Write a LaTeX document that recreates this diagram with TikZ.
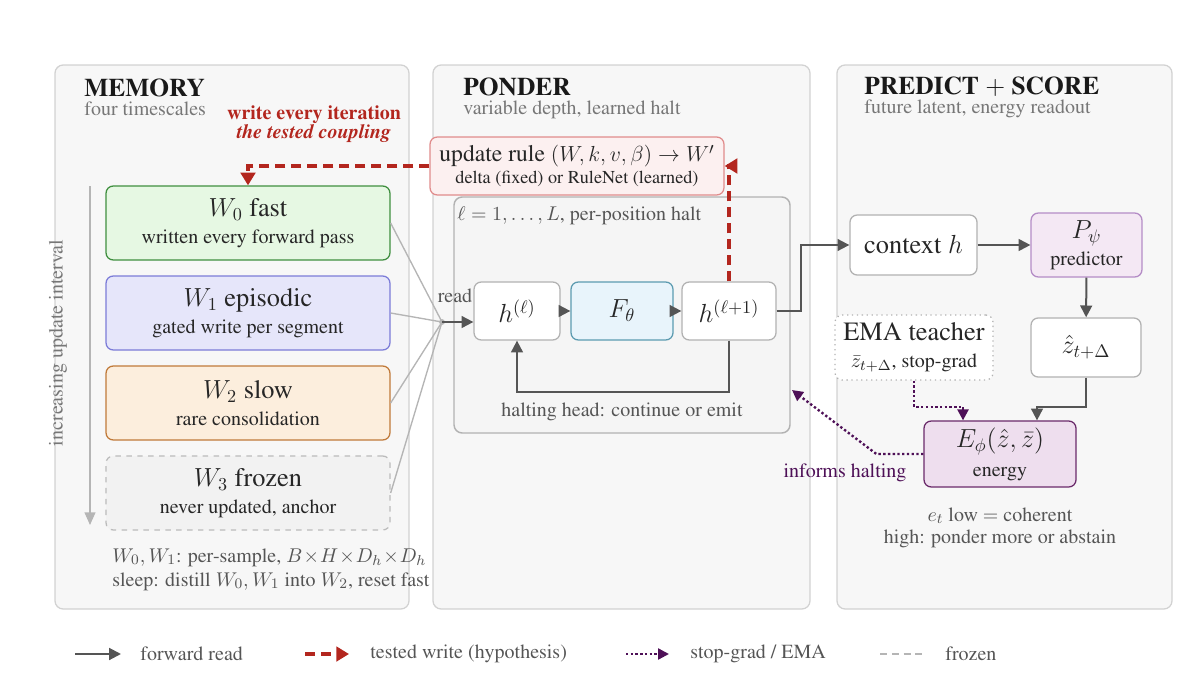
\documentclass[tikz,border=0pt]{standalone}
\usepackage{amsmath}
\usepackage[T1]{fontenc}
\renewcommand{\rmdefault}{ptm}
\usepackage{tikz}
\usetikzlibrary{arrows.meta,calc}
\definecolor{panelfill}{HTML}{F7F7F7}
\definecolor{panelline}{HTML}{D2D2D2}
\definecolor{fwdgray}{HTML}{555555}
\definecolor{readgray}{HTML}{B5B5B5}
\definecolor{notegray}{HTML}{555555}
\definecolor{subgray}{HTML}{777777}
\definecolor{testred}{HTML}{B3261E}
\definecolor{sgpurple}{HTML}{4E1057}
\definecolor{fastfill}{HTML}{E6F8E3}
\definecolor{fastline}{HTML}{3F8F3F}
\definecolor{epifill}{HTML}{E6E6FA}
\definecolor{epiline}{HTML}{7C7CD8}
\definecolor{slowfill}{HTML}{FCEEDD}
\definecolor{slowline}{HTML}{C07A3A}
\definecolor{frozfill}{HTML}{F2F2F2}
\definecolor{frozline}{HTML}{BBBBBB}
\definecolor{updfill}{HTML}{FCF0F0}
\definecolor{updline}{HTML}{E08C8C}
\definecolor{ffill}{HTML}{E8F4FB}
\definecolor{fline}{HTML}{5C9BB0}
\definecolor{predfill}{HTML}{F4E8F4}
\definecolor{predline}{HTML}{B48CC6}
\definecolor{enfill}{HTML}{EEDEEE}
\definecolor{enline}{HTML}{6A2A6A}
\newcommand{\lgtxt}[1]{{\fontsize{14.5}{16}\selectfont #1}}
\tikzset{
  panel/.style={draw=panelline,fill=panelfill,rounded corners=4.5pt,line width=0.7pt},
  ttl/.style={anchor=base west,inner sep=0pt,font=\fontsize{14}{16}\selectfont\bfseries,text=black!90},
  subttl/.style={anchor=base west,inner sep=0pt,font=\fontsize{11}{13}\selectfont,text=subgray},
  note/.style={font=\fontsize{11}{13}\selectfont,text=notegray},
  blk/.style 2 args={draw=#2,fill=#1,rounded corners=4pt,line width=0.7pt,inner sep=0pt,
    align=center,font=\fontsize{11}{15}\selectfont,text=black!85},
  memblk/.style 2 args={blk={#1}{#2},minimum width=156.2pt,minimum height=40.7pt},
  fwd/.style={draw=fwdgray,line width=1.1pt,-{Triangle[length=6.5pt,width=6.5pt]}},
  readln/.style={draw=readgray,line width=0.75pt},
  wrt/.style={draw=testred,line width=2pt,dash pattern=on 5.5pt off 3.3pt,
    -{Triangle[length=7pt,width=8pt]}},
  sg/.style={draw=sgpurple,line width=1.3pt,dash pattern=on 1.3pt off 1.3pt,
    -{Triangle[length=6pt,width=6pt]}}
}

\begin{document}
\begin{tikzpicture}[x=0.55pt,y=-0.55pt]
\useasboundingbox (0,0) rectangle (1200,687);

% panels
\draw[panel] (55,65) rectangle (409,609);
\draw[panel] (433,65) rectangle (810,609);
\draw[panel] (837,65) rectangle (1172,609);
\node[ttl] at (84,96) {MEMORY};
\node[subttl] at (84,115) {four timescales};
\node[ttl] at (463,95) {PONDER};
\node[subttl] at (463,114) {variable depth, learned halt};
\node[ttl] at (864,94) {PREDICT $+$ SCORE};
\node[subttl] at (864,113) {future latent, energy readout};

% memory
\node[memblk={fastfill}{fastline}] (w0) at (248,223) {\lgtxt{$W_0$ fast}\\written every forward pass};
\node[memblk={epifill}{epiline}] (w1) at (248,313) {\lgtxt{$W_1$ episodic}\\gated write per segment};
\node[memblk={slowfill}{slowline}] (w2) at (248,403) {\lgtxt{$W_2$ slow}\\rare consolidation};
\node[memblk={frozfill}{frozline},dashed] (w3) at (248,493) {\lgtxt{$W_3$ frozen}\\never updated, anchor};
\coordinate (itop) at (90,186);
\coordinate (ibot) at (90,525);
\draw[draw=readgray,line width=0.9pt,-{Triangle[length=7pt,width=6pt]}] (itop) -- (ibot);
\node[note,text=subgray,rotate=90] (ilbl) at (58,343) {increasing update interval};
\node[note,anchor=base west,inner sep=0pt] (mnote1) at (112,562) {$W_0, W_1$: per-sample, $B\!\times\! H\!\times\! D_h\!\times\! D_h$};
\node[note,anchor=base west,inner sep=0pt] (mnote2) at (112,586) {sleep: distill $W_0, W_1$ into $W_2$, reset fast};

% ponder
\draw[draw=black!30,fill=black!4,rounded corners=4.5pt,line width=0.8pt] (454,197) rectangle (790,433);
\node[note,anchor=west,inner sep=0pt] (lplbl) at (457,216) {$\ell = 1, \ldots, L$, per-position halt};
\node[blk={white}{black!30},minimum width=47.3pt,minimum height=31.9pt] (hl) at (517,311) {\lgtxt{$h^{(\ell)}$}};
\node[blk={ffill}{fline},minimum width=56.1pt,minimum height=31.9pt] (F) at (622,311) {\lgtxt{$F_\theta$}};
\node[blk={white}{black!30},minimum width=51.7pt,minimum height=31.9pt] (hl1) at (729,311) {\lgtxt{$h^{(\ell+1)}$}};
\node[blk={updfill}{updline},minimum width=161.7pt,minimum height=31.9pt,
  font=\fontsize{10}{12}\selectfont] (upd) at (577,166)
  {{\fontsize{13}{15}\selectfont update rule $(W, k, v, \beta) \to W'$}\\delta (fixed) or RuleNet (learned)};
\draw[fwd] (hl) -- (F);
\draw[fwd] (F) -- (hl1);
\draw[fwd] (hl1.south) -- ++(0,51) -| (hl.south);
\node[note] (haltlbl) at (622,412) {halting head: continue or emit};

% read fan
\coordinate (rd) at (442,322);
\foreach \w in {w0,w1,w2,w3}
  \draw[readln] (\w.east) -- (rd);
\fill[readgray] (rd) circle (1.6pt);
\draw[fwd] (rd) -- (rd -| hl.west);
\node[note] (rdlbl) at (455,296) {read};

% tested write
\draw[wrt] (upd.west) -| (w0.north);
\draw[wrt] (hl1.north) |- (upd.east);
\node[align=center,text=testred,font=\fontsize{11}{9.5}\selectfont\bfseries] (wlbl) at (314,124)
  {write every iteration\\\textit{the tested coupling}};

% predict + score
\node[blk={white}{black!30},minimum width=69.9pt,minimum height=33pt] (ctx) at (913.5,245) {\lgtxt{context $h$}};
\node[blk={predfill}{predline},minimum width=61pt,minimum height=35.2pt] (P) at (1086.5,245) {\lgtxt{$P_\psi$}\\predictor};
\node[blk={white}{black!30},minimum width=60.5pt,minimum height=32.5pt] (zhat) at (1086,347.5) {\lgtxt{$\hat{z}_{t+\Delta}$}};
\node[blk={white}{black!30},dotted,minimum width=86.9pt,minimum height=35.8pt] (ema) at (914,347.5) {\lgtxt{EMA teacher}\\$\bar{z}_{t+\Delta}$, stop-grad};
\node[blk={enfill}{enline},minimum width=83.6pt,minimum height=36.3pt] (E) at (1000,454) {\lgtxt{$E_\phi(\hat{z}, \bar{z})$}\\[1pt]energy};
\draw[fwd] (hl1.east) -- ++(24,0) |- (ctx.west);
\draw[fwd] (ctx) -- (P);
\draw[fwd] (P) -- (zhat);
\draw[fwd] (zhat.south) -- ++(0,29) -| ([xshift=20.35pt]E.north);
\draw[sg] (ema.south) -- ++(0,26) -| ([xshift=-20.35pt]E.north);
\coordinate (haltin) at (792,390);
\draw[sg] (E.west) -- ++(-47,0) -- (haltin);
\node[note,text=sgpurple] (inflbl) at (845,473) {informs halting};
\node[note,anchor=base] (enote1) at (1000,521) {$e_t$ low $=$ coherent};
\node[note,anchor=base] (enote2) at (1000,543) {high: ponder more or abstain};

% legend
\coordinate (la1) at (75,654);   \coordinate (lb1) at (121,654);
\coordinate (la2) at (305,654);  \coordinate (lb2) at (349,654);
\coordinate (la3) at (626,654);  \coordinate (lb3) at (669,654);
\coordinate (la4) at (880,654);  \coordinate (lb4) at (922,654);
\draw[fwd] (la1) -- (lb1);
\draw[wrt] (la2) -- (lb2);
\draw[sg] (la3) -- (lb3);
\draw[readgray,line width=1pt,dash pattern=on 4pt off 2.5pt] (la4) -- (lb4);
\node[note,anchor=west,inner sep=0pt] (lt1) at (140,654) {forward read};
\node[note,anchor=west,inner sep=0pt] (lt2) at (370,654) {tested write (hypothesis)};
\node[note,anchor=west,inner sep=0pt] (lt3) at (690,654) {stop-grad / EMA};
\node[note,anchor=west,inner sep=0pt] (lt4) at (945,654) {frozen};
\end{tikzpicture}
\end{document}
